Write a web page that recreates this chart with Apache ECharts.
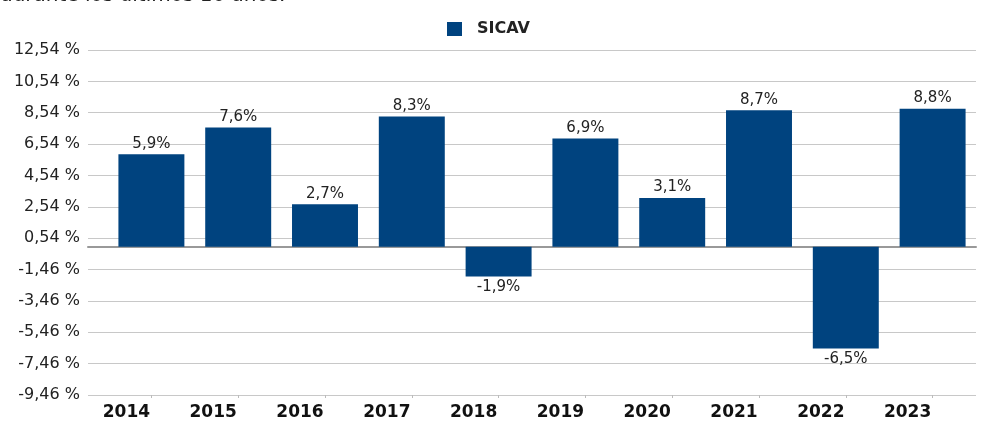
<!DOCTYPE html>
<html>
<head>
<meta charset="utf-8">
<script src="https://cdn.jsdelivr.net/npm/echarts@6/dist/echarts.min.js"></script>
<style>
  html, body { margin: 0; padding: 0; background: #fff; }
  #chart { width: 981px; height: 421px; }
</style>
</head>
<body>
<div id="chart"></div>
<script>
const years = ['2014', '2015', '2016', '2017', '2018', '2019', '2020', '2021', '2022', '2023']
const sicav = [5.9, 7.6, 2.7, 8.3, -1.9, 6.9, 3.1, 8.7, -6.5, 8.8]
const yMin = -9.46
const yMax = 12.54
const yStep = 2

const fmtComma = (v, digits) => v.toFixed(digits).replace('.', ',')

let myChart = echarts.init(document.getElementById('chart'))
myChart.setOption({
    animation: false,
    textStyle: { fontFamily: 'DejaVu Sans' },
    graphic: [
        {
            // texto cortado arriba, como en la captura
            type: 'text',
            x: 0,
            y: -14,
            style: { text: 'durante los últimos 10 años.', font: '20px DejaVu Sans', fill: '#222' }
        }
    ],
    legend: {
        left: 442,
        top: 16,
        icon: 'rect',
        itemWidth: 15,
        itemHeight: 14,
        data: ['SICAV'],
        textStyle: { fontSize: 16, fontWeight: 'bold', color: '#222', padding: [0, 0, 0, 10] }
    },
    grid: [
        { left: 88, right: 5, top: 50, bottom: 26 },
        { left: 108, right: 5, top: 50, bottom: 26 }
    ],
    xAxis: [
        {
            gridIndex: 0,
            type: 'value',
            min: 0,
            max: 1,
            axisLabel: { show: false },
            axisTick: { show: false },
            splitLine: { show: false },
            axisLine: { show: true, onZero: true, lineStyle: { color: '#999', width: 2 } }
        },
        {
            gridIndex: 1,
            type: 'category',
            data: years,
            axisLine: { show: false, onZero: false },
            axisTick: { show: true, alignWithLabel: true, length: 3, lineStyle: { color: '#bbb' } },
            axisLabel: {
                fontSize: 17,
                fontWeight: 'bold',
                color: '#111',
                margin: 9,
                padding: [0, 50, 0, 0]
            }
        }
    ],
    yAxis: [
        {
            gridIndex: 0,
            type: 'value',
            min: yMin,
            max: yMax,
            interval: yStep,
            axisLine: { show: false },
            axisTick: { show: false },
            splitLine: { lineStyle: { color: '#c8c8c8', width: 1 } },
            axisLabel: {
                fontSize: 16,
                color: '#222',
                margin: 8,
                formatter: v => fmtComma(v, 2) + ' %'
            }
        },
        {
            gridIndex: 1,
            type: 'value',
            min: yMin,
            max: yMax,
            interval: yStep,
            show: false
        }
    ],
    series: [
        {
            name: 'SICAV',
            type: 'bar',
            xAxisIndex: 1,
            yAxisIndex: 1,
            barWidth: '76%',
            itemStyle: { color: '#00437f' },
            label: {
                show: true,
                fontSize: 15,
                color: '#222',
                distance: 3,
                formatter: p => fmtComma(p.value, 1) + '%'
            },
            data: sicav.map(v => ({
                value: v,
                label: { position: v < 0 ? 'bottom' : 'top' }
            }))
        }
    ]
})
window.addEventListener('resize', function() {
    myChart.resize()
})
</script>
</body>
</html>
